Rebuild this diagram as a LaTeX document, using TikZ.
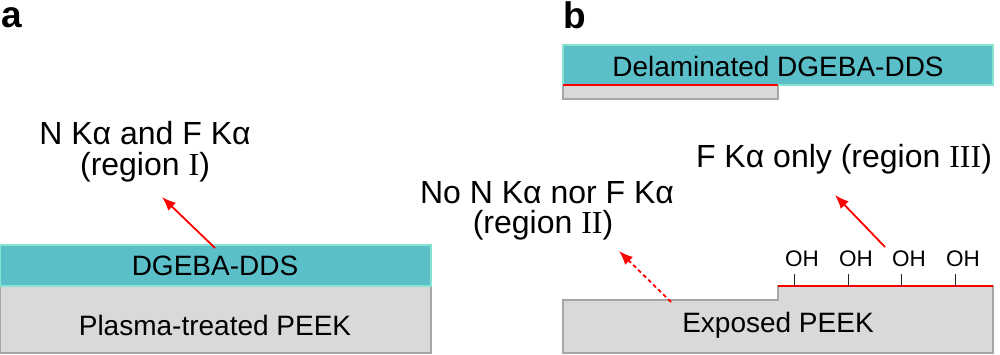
\documentclass[tikz,border=0pt]{standalone}
\usepackage{fontspec}
\setmainfont{Liberation Sans}
\newfontfamily\romfont{Liberation Serif}
\usetikzlibrary{arrows.meta}
\definecolor{epoxy}{HTML}{5BBFC9}
\definecolor{epoxyedge}{HTML}{86E3CF}
\definecolor{peek}{HTML}{D9D9D9}
\definecolor{peekedge}{HTML}{A6A6A6}
\definecolor{myred}{HTML}{FF0000}
\tikzset{
  epoxylayer/.style={fill=epoxy, draw=epoxyedge, line width=1.2pt},
  peeklayer/.style={fill=peek, draw=peekedge, line width=1.2pt},
  boxtext/.style={font=\fontsize{28}{30}\selectfont, inner sep=0pt},
  labeltext/.style={font=\fontsize{32}{36}\selectfont, inner sep=0pt, align=center},
  ohtext/.style={font=\fontsize{22.5}{24}\selectfont, inner sep=0pt},
  panel/.style={font=\fontsize{37}{40}\selectfont\bfseries, inner sep=0pt},
  redarrow/.style={draw=myred, line width=1.8pt, -{Latex[length=14pt,width=11pt]}},
  reddash/.style={redarrow, dash pattern=on 4pt off 3pt},
  redline/.style={draw=myred, line width=2pt},
  tick/.style={draw=black!85, line width=1pt}
}
\begin{document}
\begin{tikzpicture}[x=1pt,y=-1pt]
\useasboundingbox (0,0) rectangle (1000,354);
% panel labels
\node[panel] (pa) at (12,18) {a};
\node[panel] (pb) at (575,15) {b};
% panel a
\draw[peeklayer] (0,286) rectangle (431,353);
\draw[epoxylayer] (0,245) rectangle (431,286);
\node[boxtext] (dgeba) at (215,266) {DGEBA-DDS};
\node[boxtext] (plasma) at (215,325) {Plasma-treated PEEK};
\node[labeltext] (r1a) at (145,133) {N Kα and F Kα};
\node[labeltext] (r1b) at (145,167) {(region {\romfont I})};
\coordinate (a1s) at (215,248);
\coordinate (a1e) at (162,197);
\draw[redarrow] (a1s) -- (a1e);
% panel b: delaminated
\draw[peeklayer] (563,85) rectangle (778,99);
\draw[epoxylayer] (563,45) rectangle (993,85);
\draw[redline] (563,85) coordinate (dl1) -- (778,85) coordinate (dl2);
\node[boxtext] (delam) at (778,66) {Delaminated DGEBA-DDS};
% exposed PEEK
\draw[peeklayer] (563,300) -- (778,300) -- (778,286) -- (993,286) -- (993,353) -- (563,353) -- cycle;
\draw[redline] (778,286) coordinate (rl1) -- (993,286) coordinate (rl2);
\node[boxtext] (exposed) at (778,325) {Exposed PEEK};
\foreach \x/\n in {794/1,848/2,901/3,955/4}{
  \coordinate (t\n) at (\x,286);
  \node[ohtext] (oh\n) at (\x+8,259) {OH};
  \draw[tick] (t\n) -- (\x,274);
}
\node[labeltext] (r3) at (844,159) {F Kα only (region {\romfont III})};
\node[labeltext] (r2a) at (547,193) {No N Kα nor F Kα};
\node[labeltext] (r2b) at (543,225) {(region {\romfont II})};
\coordinate (a2s) at (671,302);
\coordinate (a2e) at (619,251);
\draw[reddash] (a2s) -- (a2e);
\coordinate (a3s) at (885,247);
\coordinate (a3e) at (835,195);
\draw[redarrow] (a3s) -- (a3e);
\end{tikzpicture}
\end{document}
